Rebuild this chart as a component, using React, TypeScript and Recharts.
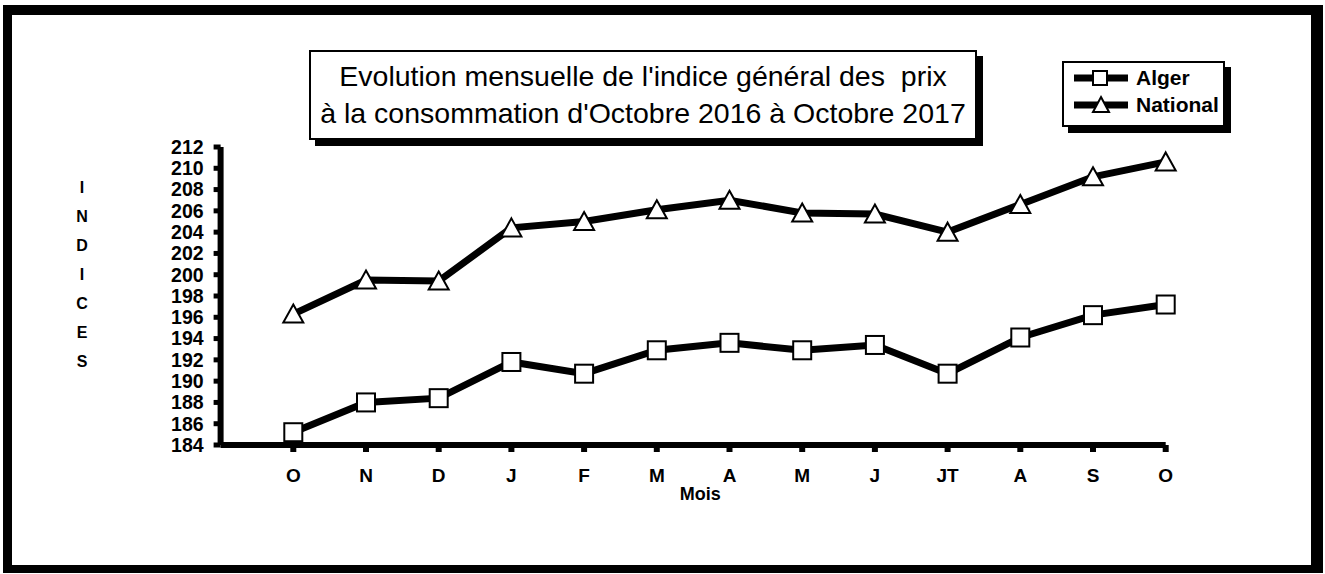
import React from 'react';
import { LineChart, Line, XAxis, YAxis, Legend, Label } from 'recharts';

const months = ['O', 'N', 'D', 'J', 'F', 'M', 'A', 'M', 'J', 'JT', 'A', 'S', 'O'];
const alger = [185.2, 188.0, 188.4, 191.8, 190.7, 192.9, 193.6, 192.9, 193.4, 190.7, 194.1, 196.2, 197.2];
const national = [196.3, 199.5, 199.4, 204.4, 205.0, 206.1, 207.0, 205.8, 205.7, 204.0, 206.6, 209.2, 210.6];
const yTicks = [184, 186, 188, 190, 192, 194, 196, 198, 200, 202, 204, 206, 208, 210, 212];
const xTicks = months.map((_, i) => i + 1);
const yTitle = ['I', 'N', 'D', 'I', 'C', 'E', 'S'];
const titleLines = ["Evolution mensuelle de l'indice général des  prix", "à la consommation d'Octobre 2016 à Octobre 2017"];

const data = months.map((m, i) => ({ x: i + 1, label: m, Alger: alger[i], National: national[i] }));

const FONT = "'Liberation Sans', Arial, sans-serif";

const SquareDot = (props: any) => {
  const { cx, cy, index } = props;
  if (cx == null || cy == null) return null;
  return <rect key={`s${index}`} x={cx - 9} y={cy - 9} width={18} height={18} fill="#fff" stroke="#000" strokeWidth={2} />;
};

const TriangleDot = (props: any) => {
  const { cx, cy, index } = props;
  if (cx == null || cy == null) return null;
  return (
    <path key={`t${index}`} d={`M${cx},${cy - 9.5} L${cx + 10},${cy + 8.5} L${cx - 10},${cy + 8.5} Z`} fill="#fff" stroke="#000" strokeWidth={2} strokeLinejoin="miter" />
  );
};

const renderLegend = (props: any) => {
  const { payload } = props;
  return (
    <div style={{ position: 'absolute', left: 0, top: 0, width: 163, height: 66, border: '2px solid #000', background: '#fff', boxShadow: '6px 6px 0 #000', boxSizing: 'border-box' }}>
      {(payload || []).map((p: any, i: number) => (
        <div key={i} style={{ position: 'absolute', left: 8, top: 3 + i * 27, height: 24, display: 'flex', alignItems: 'center' }}>
          <svg width={58} height={24}>
            <line x1={2} y1={12} x2={56} y2={12} stroke="#000" strokeWidth={7} />
            {p.value === 'Alger' ? (
              <rect x={21} y={5} width={14} height={14} fill="#fff" stroke="#000" strokeWidth={2} />
            ) : (
              <path d="M29,4 L37,19 L21,19 Z" fill="#fff" stroke="#000" strokeWidth={2} />
            )}
          </svg>
          <span style={{ fontFamily: FONT, fontWeight: 'bold', fontSize: 21, marginLeft: 6, color: '#000', whiteSpace: 'nowrap' }}>{p.value}</span>
        </div>
      ))}
    </div>
  );
};

export default function App() {
  return (
    <div style={{ position: 'absolute', left: 0, top: 0, width: 1325, height: 574, background: '#fff', overflow: 'hidden' }}>
      <div style={{ position: 'absolute', left: 3, top: 5, width: 1320, height: 568, boxSizing: 'border-box', borderTop: '10px solid #000', borderLeft: '9px solid #000', borderRight: '12px solid #000', borderBottom: '8px solid #000' }} />
      <div style={{ position: 'absolute', left: 0, top: 0 }}>
        <LineChart width={1325} height={574} data={data} margin={{ top: 147, right: 159.3, bottom: 99, left: 160.6 }}>
          <XAxis
            dataKey="x"
            type="number"
            domain={[0, 13]}
            ticks={xTicks}
            height={30}
            tickFormatter={(v: number) => months[v - 1]}
            axisLine={{ stroke: '#000', strokeWidth: 6 }}
            tickLine={{ stroke: '#000', strokeWidth: 6 }}
            tickSize={7}
            tickMargin={17}
            tick={{ fill: '#000', fontFamily: FONT, fontWeight: 'bold', fontSize: 19 }}
            interval={0}
          >
            <Label value="Mois" position="bottom" offset={12} dx={7} style={{ fill: '#000', fontFamily: FONT, fontWeight: 'bold', fontSize: 18 }} />
          </XAxis>
          <YAxis
            type="number"
            domain={[184, 212]}
            ticks={yTicks}
            width={60}
            interval={0}
            axisLine={{ stroke: '#000', strokeWidth: 6 }}
            tickLine={{ stroke: '#000', strokeWidth: 5 }}
            tickSize={7}
            tickMargin={10}
            tick={{ fill: '#000', fontFamily: FONT, fontWeight: 'bold', fontSize: 19.5 }}
          >
            <Label
              content={() => (
                <text x={82} y={193} textAnchor="middle" style={{ fill: '#000', fontFamily: FONT, fontWeight: 'bold', fontSize: 16 }}>
                  {yTitle.map((c, i) => (
                    <tspan key={i} x={82} dy={i === 0 ? 0 : 29}>{c}</tspan>
                  ))}
                </text>
              )}
            />
          </YAxis>
          <Legend
            layout="horizontal"
            verticalAlign="middle"
            align="right"
            content={renderLegend}
            wrapperStyle={{ position: 'absolute', left: 1062, top: 61, width: 0, height: 0, overflow: 'visible' }}
          />
          <Line type="linear" dataKey="Alger" name="Alger" stroke="#000" strokeWidth={7} dot={<SquareDot />} activeDot={false} isAnimationActive={false} />
          <Line type="linear" dataKey="National" name="National" stroke="#000" strokeWidth={7} dot={<TriangleDot />} activeDot={false} isAnimationActive={false} />
        </LineChart>
      </div>
      <div style={{ position: 'absolute', left: 309, top: 50, width: 668, height: 90, boxSizing: 'border-box', border: '2px solid #000', background: '#fff', boxShadow: '6px 6px 0 #000', fontFamily: FONT, fontSize: 28.5, lineHeight: '37px', textAlign: 'center', paddingTop: 6, color: '#000', whiteSpace: 'pre' }}>
        {titleLines.map((t, i) => (
          <div key={i}>{t}</div>
        ))}
      </div>
    </div>
  );
}
